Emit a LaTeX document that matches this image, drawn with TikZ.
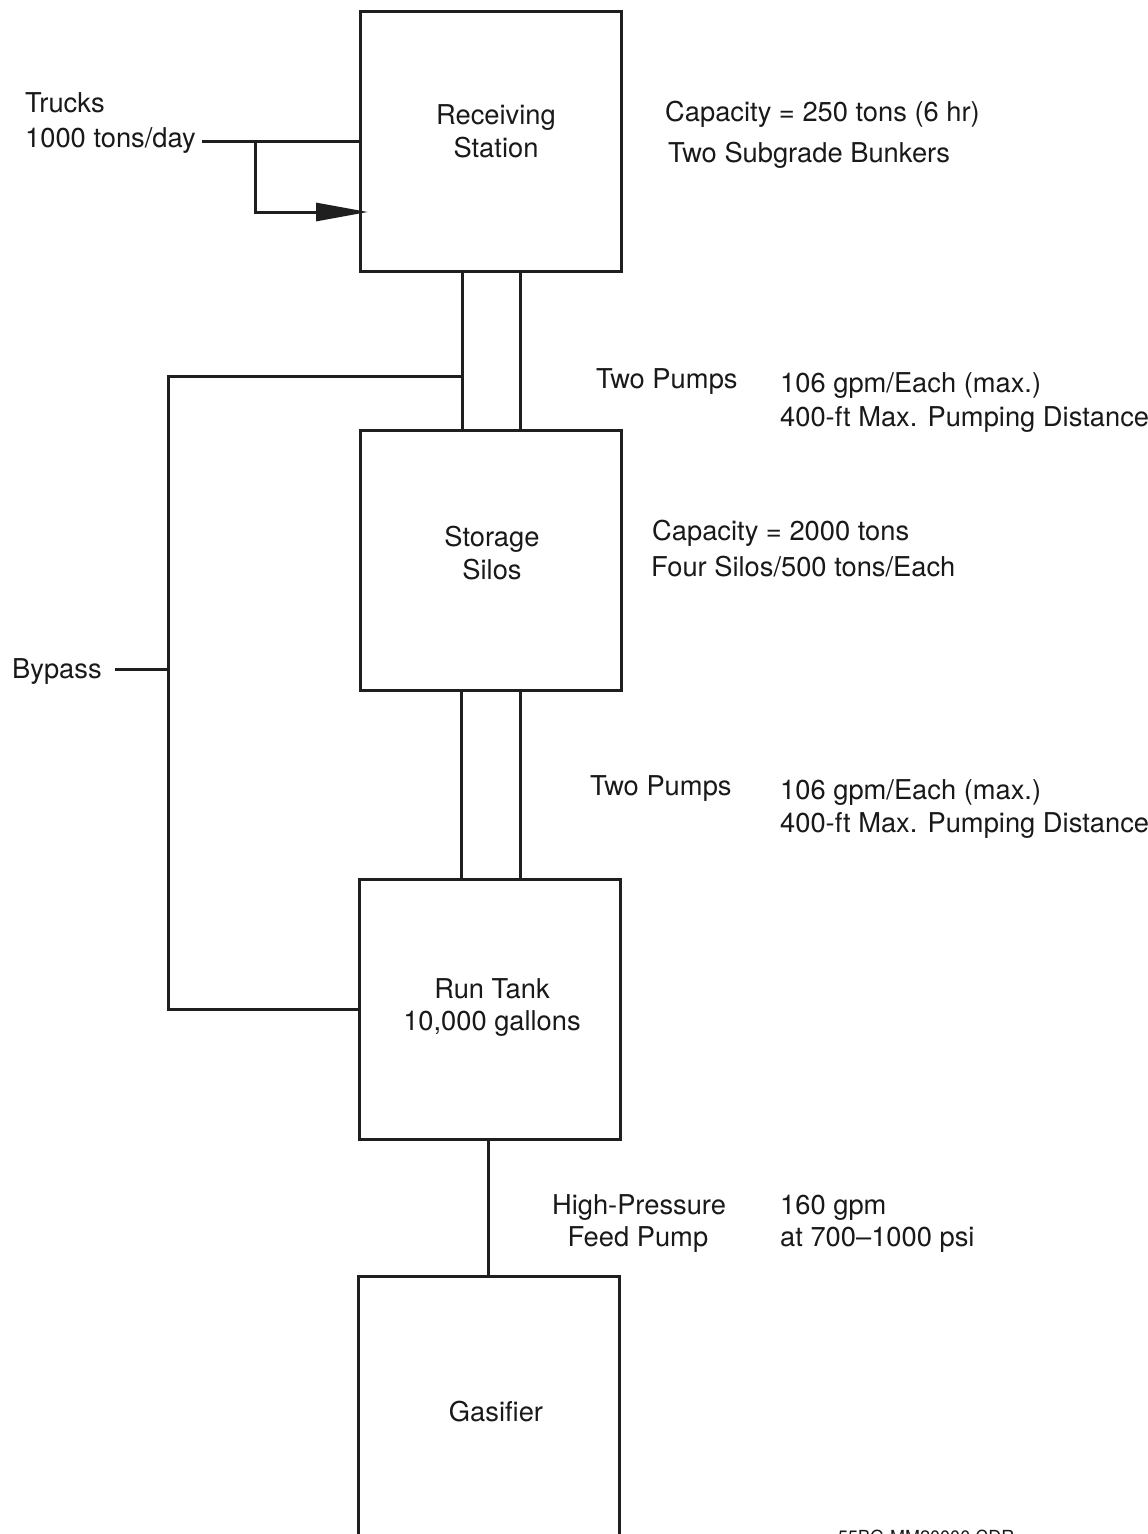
\documentclass[tikz,border=0pt]{standalone}
\usepackage{fontspec}
\setmainfont{TeX Gyre Heros}
\usetikzlibrary{arrows.meta}
\begin{document}
\begin{tikzpicture}[x=1pt,y=1pt,
  every node/.style={font=\fontsize{27.3}{32.5}\selectfont, text=black!90},
  box/.style={draw=black!88, line width=3pt, minimum width=261pt, minimum height=260pt, inner sep=0pt, align=center},
  lbl/.style={inner sep=0pt, anchor=base west},
  clbl/.style={inner sep=0pt, anchor=base},
  pipe/.style={draw=black!88, line width=3pt},
]
\clip (0,0) rectangle (1148,-1534);
\fill[white] (0,0) rectangle (1148,-1534);

% boxes
\node[box] (recv) at (490.5,-141) {\hspace*{11pt}Receiving\\\hspace*{11pt}Station\rule[-20pt]{0pt}{0pt}};
\node[box] (stor) at (490.5,-560) {\hspace*{3pt}Storage\\\hspace*{3pt}Silos\rule[-14pt]{0pt}{0pt}};
\node[box] (run) at (489.5,-1009) {\hspace*{5pt}Run Tank\\\hspace*{5pt}10,000 gallons\rule[-9pt]{0pt}{0pt}};
\node[box, minimum height=272pt] (gas) at (488.5,-1412) {\hspace*{15pt}Gasifier};

% pipes
\draw[pipe] ([xshift=-28.5pt]recv.south) -- ([xshift=-28.5pt]stor.north);
\draw[pipe] ([xshift=29.5pt]recv.south) -- ([xshift=29.5pt]stor.north);
\draw[pipe] ([xshift=-29.5pt]stor.south) -- ([xshift=-28.5pt]run.north);
\draw[pipe] ([xshift=29.5pt]stor.south) -- ([xshift=30.5pt]run.north);
\draw[pipe] ([xshift=-1.5pt]run.south) -- ([xshift=-0.5pt]gas.north);

% bypass
\coordinate (bj) at (462,-376);
\coordinate (bcorner) at (168,-376);
\draw[pipe] (bj) -- (bcorner) |- (run.west);
\node[lbl] (bypass) at (12,-678) {Bypass};
\coordinate (bpl) at (115,-669);
\coordinate (bpt) at (168,-669);
\draw[pipe] (bpl) -- (bpt);

% trucks
\node[lbl] (trucks) at (25,-112) {Trucks};
\node[lbl] (tons) at (25,-147) {1000 tons/day};
\coordinate (tin) at (202,-141);
\coordinate (tj) at (255,-141);
\coordinate (tarrow) at (368,-212);
\draw[pipe] (tin) -- (recv.west);
\draw[pipe, -{Triangle[length=52pt,width=18pt]}] (tj) |- (tarrow);

% annotations
\node[lbl] (cap1) at (665,-121) {Capacity = 250 tons (6 hr)};
\node[lbl] (bunk) at (668,-162) {Two Subgrade Bunkers};
\node[lbl] (pumpsA) at (596,-388) {Two Pumps};
\node[lbl] (gpmA) at (780,-392) {106 gpm/Each (max.)};
\node[lbl] (distA) at (780,-426) {400-ft Max. Pumping Distance};
\node[lbl] (cap2) at (652,-540) {Capacity = 2000 tons};
\node[lbl] (silos) at (651,-576) {Four Silos/500 tons/Each};
\node[lbl] (pumpsB) at (590,-795) {Two Pumps};
\node[lbl] (gpmB) at (780,-799) {106 gpm/Each (max.)};
\node[lbl] (distB) at (780,-832) {400-ft Max. Pumping Distance};
\node[clbl] (hp) at (639,-1214) {High-Pressure};
\node[clbl] (fp) at (638,-1246) {Feed Pump};
\node[lbl] (gpmC) at (780,-1214) {160 gpm};
\node[lbl] (psi) at (780,-1246) {at 700–1000 psi};
\node[lbl, font=\fontsize{18}{20}\selectfont] (code) at (838,-1543) {55BG-MM20000.CDR};
\end{tikzpicture}
\end{document}
